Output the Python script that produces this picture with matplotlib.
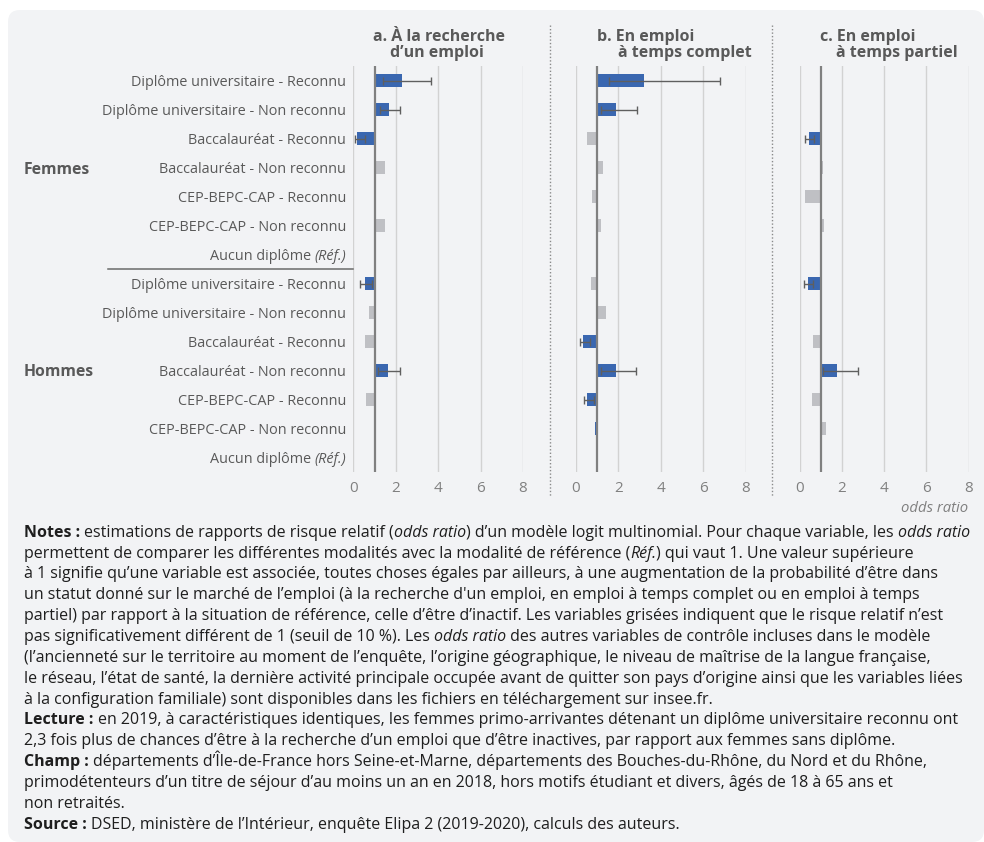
import numpy as np
import matplotlib
matplotlib.use('Agg')
import matplotlib.pyplot as plt
import matplotlib.transforms as mtransforms
from matplotlib.patches import FancyBboxPatch
from matplotlib.lines import Line2D

plt.rcParams['font.family'] = ['Open Sans', 'DejaVu Sans']

# --- data (odds ratio) ---
categories = ["Diplôme universitaire - Reconnu", "Diplôme universitaire - Non reconnu",
              "Baccalauréat - Reconnu", "Baccalauréat - Non reconnu",
              "CEP-BEPC-CAP - Reconnu", "CEP-BEPC-CAP - Non reconnu", "Aucun diplôme"]
groups = ["Femmes", "Hommes"]
nan = np.nan

# a. À la recherche d'un emploi
a_val = [2.30, 1.68, 0.17, 1.50, 1.02, 1.50, nan, 0.55, 0.72, 0.54, 1.64, 0.58, 1.08, nan]
a_sig = [1, 1, 1, 0, 0, 0, 0, 1, 0, 0, 1, 0, 0, 0]
a_lo = [1.41, 1.27, 0.07, nan, nan, nan, nan, 0.33, nan, nan, 1.15, nan, nan, nan]
a_hi = [3.67, 2.22, 0.57, nan, nan, nan, nan, 0.90, nan, nan, 2.22, nan, nan, nan]

# b. En emploi à temps complet
b_val = [3.20, 1.89, 0.50, 1.25, 0.77, 1.16, nan, 0.72, 1.40, 0.33, 1.89, 0.52, 0.90, nan]
b_sig = [1, 1, 0, 0, 0, 0, 0, 0, 0, 1, 1, 1, 1, 0]
b_lo = [1.56, 1.19, nan, nan, nan, nan, nan, nan, nan, 0.20, 1.19, 0.36, nan, nan]
b_hi = [6.77, 2.88, nan, nan, nan, nan, nan, nan, nan, 0.64, 2.83, 0.85, nan, nan]

# c. En emploi à temps partiel
c_val = [1.05, 1.05, 0.44, 1.10, 0.27, 1.14, nan, 0.39, 1.00, 0.62, 1.77, 0.57, 1.23, nan]
c_sig = [0, 0, 1, 0, 0, 0, 0, 1, 0, 0, 1, 0, 0, 0]
c_lo = [nan, nan, 0.27, nan, nan, nan, nan, 0.22, nan, nan, 1.12, nan, nan, nan]
c_hi = [nan, nan, 0.66, nan, nan, nan, nan, 0.63, nan, nan, 2.78, nan, nan, nan]

panel_titles = [("a. À la recherche", "d’un emploi"),
                ("b. En emploi", "à temps complet"),
                ("c. En emploi", "à temps partiel")]
xticks = [0, 2, 4, 6, 8]

notes = [
    [("Notes : ", "b"), ("estimations de rapports de risque relatif (", "n"), ("odds ratio", "i"),
     (") d’un modèle logit multinomial. Pour chaque variable, les ", "n"), ("odds ratio", "i")],
    [("permettent de comparer les différentes modalités avec la modalité de référence (", "n"),
     ("Réf.", "i"), (") qui vaut 1. Une valeur supérieure", "n")],
    [("à 1 signifie qu’une variable est associée, toutes choses égales par ailleurs, à une augmentation de la probabilité d’être dans", "n")],
    [("un statut donné sur le marché de l’emploi (à la recherche d'un emploi, en emploi à temps complet ou en emploi à temps", "n")],
    [("partiel) par rapport à la situation de référence, celle d’être d’inactif. Les variables grisées indiquent que le risque relatif n’est", "n")],
    [("pas significativement différent de 1 (seuil de 10 %). Les ", "n"), ("odds ratio", "i"),
     (" des autres variables de contrôle incluses dans le modèle", "n")],
    [("(l’ancienneté sur le territoire au moment de l’enquête, l’origine géographique, le niveau de maîtrise de la langue française,", "n")],
    [("le réseau, l’état de santé, la dernière activité principale occupée avant de quitter son pays d’origine ainsi que les variables liées", "n")],
    [("à la configuration familiale) sont disponibles dans les fichiers en téléchargement sur insee.fr.", "n")],
    [("Lecture : ", "b"), ("en 2019, à caractéristiques identiques, les femmes primo-arrivantes détenant un diplôme universitaire reconnu ont", "n")],
    [("2,3 fois plus de chances d’être à la recherche d’un emploi que d’être inactives, par rapport aux femmes sans diplôme.", "n")],
    [("Champ : ", "b"), ("départements d’Île-de-France hors Seine-et-Marne, départements des Bouches-du-Rhône, du Nord et du Rhône,", "n")],
    [("primodétenteurs d’un titre de séjour d’au moins un an en 2018, hors motifs étudiant et divers, âgés de 18 à 65 ans et", "n")],
    [("non retraités.", "n")],
    [("Source : ", "b"), ("DSED, ministère de l’Intérieur, enquête Elipa 2 (2019-2020), calculs des auteurs.", "n")],
]

BLUE = '#3a67b0'
GREY_BAR = '#bfc0c4'
TXT = '#595959'
W, H = 984, 842

fig = plt.figure(figsize=(W / 100, H / 100), dpi=100)
fig.patch.set_facecolor('white')

# rounded light grey background
bg = FancyBboxPatch((8 / 100, (H - 842) / 100), 976 / 100, 832 / 100,
                    boxstyle='round,pad=0,rounding_size=0.12',
                    transform=fig.dpi_scale_trans, fc='#f2f3f5', ec='none', zorder=-10)
fig.add_artist(bg)


def px_rect(x0, y0, x1, y1):
    return [x0 / W, 1 - y1 / H, (x1 - x0) / W, (y1 - y0) / H]


panel_x = [(353.3, 523.0), (576.0, 745.7), (799.7, 968.7)]
title_x = [(373, 390), (597, 618), (820, 836)]
series = [(a_val, a_sig, a_lo, a_hi), (b_val, b_sig, b_lo, b_hi), (c_val, c_sig, c_lo, c_hi)]
rows = np.arange(14)

axes = []
for k, ((x0, x1), (val, sig, lo, hi)) in enumerate(zip(panel_x, series)):
    ax = fig.add_axes(px_rect(x0, 66, x1, 472))
    ax.patch.set_alpha(0)
    val = np.array(val)
    sig = np.array(sig, bool)
    lo = np.array(lo)
    hi = np.array(hi)
    colors = [BLUE if s else GREY_BAR for s in sig]
    ax.barh(rows, val - 1, left=1, height=0.42, color=colors, zorder=2)
    m = ~np.isnan(lo)
    ax.errorbar(val[m], rows[m], xerr=[val[m] - lo[m], hi[m] - val[m]], fmt='none',
                ecolor='#5f5f5f', elinewidth=1, capsize=2.6, capthick=1, zorder=4)
    ax.axvline(1, color='#808080', lw=1.6, zorder=3)
    ax.set_xlim(0, 8)
    ax.set_ylim(13.5, -0.5)
    ax.set_xticks(xticks)
    ax.set_yticks([])
    ax.grid(axis='x', color='#d2d2d2', lw=1)
    ax.set_axisbelow(True)
    ax.tick_params(axis='x', length=0, pad=6.5, labelsize=11, labelcolor='#808080')
    for s in ax.spines.values():
        s.set_visible(False)
    t1, t2 = panel_titles[k]
    fig.text(title_x[k][0] / W, 1 - 37 / H, t1, ha='left', va='center', fontsize=11.5,
             fontweight='bold', color=TXT)
    fig.text(title_x[k][1] / W, 1 - 53 / H, t2, ha='left', va='center', fontsize=11.5,
             fontweight='bold', color=TXT)
    axes.append(ax)

ax_a = axes[0]
renderer = fig.canvas.get_renderer()


def adv(s, **kw):
    t1 = fig.text(0, 0, "|" + s + "|", **kw)
    t2 = fig.text(0, 0, "||", **kw)
    w = t1.get_window_extent(renderer).width - t2.get_window_extent(renderer).width
    t1.remove()
    t2.remove()
    return w


# row labels
lab_size = 10.4
for i in rows:
    name = categories[i % 7]
    off = mtransforms.ScaledTranslation(-7 / 100, 0, fig.dpi_scale_trans)
    if i % 7 == 6:
        ax_a.text(0, i, "(Réf.)", transform=ax_a.get_yaxis_transform() + off, ha='right',
                  va='center_baseline', fontsize=lab_size, style='italic', color=TXT)
        shift = 7 + adv("(Réf.)", fontsize=lab_size, style='italic') + adv(" ", fontsize=lab_size)
        off2 = mtransforms.ScaledTranslation(-shift / 100, 0, fig.dpi_scale_trans)
        ax_a.text(0, i, name, transform=ax_a.get_yaxis_transform() + off2, ha='right',
                  va='center_baseline', fontsize=lab_size, color=TXT)
    else:
        ax_a.text(0, i, name, transform=ax_a.get_yaxis_transform() + off, ha='right',
                  va='center_baseline', fontsize=lab_size, color=TXT)

grp_tr = mtransforms.blended_transform_factory(fig.transFigure, ax_a.transData)
for g, yy in zip(groups, [3, 10]):
    fig.text(24 / W, yy, g, transform=grp_tr, ha='left', va='center_baseline',
             fontsize=11.3, fontweight='bold', color=TXT)

# women / men separator
ax_a.plot([(108 - 353.3) / 169.7, 0], [6.5, 6.5], transform=ax_a.get_yaxis_transform(),
          clip_on=False, color='#6a6a6a', lw=1.1)

# dotted separators between panels
for xs in [550, 772]:
    fig.add_artist(Line2D([xs / W, xs / W], [1 - 25 / H, 1 - 496 / H], transform=fig.transFigure,
                          color='#8a8a8a', lw=1, ls=(0, (1, 1.5))))

fig.text(968 / W, 1 - 508 / H, "odds ratio", ha='right', va='center', fontsize=10.7,
         style='italic', color='#808080')

# notes block with mixed styles
note_size = 11.5
styles = {"n": {}, "b": {"fontweight": "bold"}, "i": {"style": "italic"}}
ident = mtransforms.IdentityTransform()
for li, line in enumerate(notes):
    x = 24
    yb = H - (536.7 + 20.86 * li)
    for txt, st in line:
        kw = dict(fontsize=note_size, color='#1e1e1e', **styles[st])
        fig.text(x, yb, txt, transform=ident, ha='left', va='baseline', **kw)
        x += adv(txt, **kw)

fig.savefig('out.png', dpi=100, facecolor='white')
